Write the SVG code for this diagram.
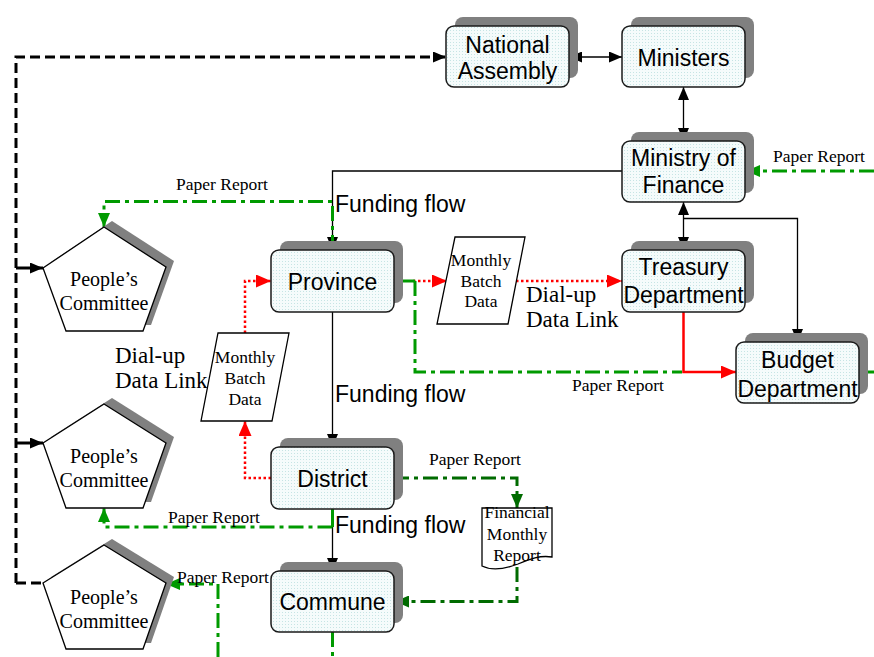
<svg xmlns="http://www.w3.org/2000/svg" width="874" height="657" viewBox="0 0 874 657">
  <defs>
    <pattern id="dots" width="3" height="3" patternUnits="userSpaceOnUse">
      <rect width="3" height="3" fill="#f5fbfb"/>
      <rect width="1" height="1" fill="#c6e4e4"/>
    </pattern>
    <marker id="ah" markerUnits="userSpaceOnUse" markerWidth="13" markerHeight="11" refX="13" refY="5.5" orient="auto-start-reverse">
      <path d="M0,0 L13,5.5 L0,11 z" fill="#000"/>
    </marker>
    <marker id="ahRed" markerUnits="userSpaceOnUse" markerWidth="15" markerHeight="13" refX="15" refY="6.5" orient="auto">
      <path d="M0,0 L15,6.5 L0,13 z" fill="#ff0000"/>
    </marker>
    <marker id="ahGreen" markerUnits="userSpaceOnUse" markerWidth="14" markerHeight="12" refX="14" refY="6" orient="auto">
      <path d="M0,0 L14,6 L0,12 z" fill="#009a00"/>
    </marker>
    <marker id="ahDkGreen" markerUnits="userSpaceOnUse" markerWidth="14" markerHeight="12" refX="14" refY="6" orient="auto">
      <path d="M0,0 L14,6 L0,12 z" fill="#006b00"/>
    </marker>
  </defs>
  <style>
    .shadow { fill: #808080; }
    .box { fill: url(#dots); stroke: #1a1a1a; stroke-width: 1.5; }
    .shape { fill: #fff; stroke: #000; stroke-width: 1.3; }
    .lbl { font-family: "Liberation Sans", Arial, sans-serif; font-size: 23px; fill: #000; text-anchor: middle; }
    .serif { font-family: "Liberation Serif", "Times New Roman", serif; fill: #000; }
    .pc { font-size: 20px; text-anchor: middle; }
    .small { font-size: 17.5px; text-anchor: middle; }
    .rep { font-size: 17.5px; }
    .dial { font-size: 23px; }
    .flow { font-family: "Liberation Sans", Arial, sans-serif; font-size: 23px; fill: #000; }
    .solid { fill: none; stroke: #000; stroke-width: 1.3; }
    .dash { fill: none; stroke: #000; stroke-width: 3; stroke-dasharray: 10 5; }
    .red-dot { fill: none; stroke: #ff0000; stroke-width: 2.5; stroke-dasharray: 2.5 2.5; }
    .red { fill: none; stroke: #ff0000; stroke-width: 2.5; }
    .green { fill: none; stroke: #009a00; stroke-width: 3; stroke-dasharray: 15 5 4 5; }
    .dkgreen { fill: none; stroke: #006b00; stroke-width: 3; stroke-dasharray: 15 5 4 5; }
  </style>

  <!-- connectors -->
  <g id="connectors">
    <!-- oversight link from the committees to the assembly -->
    <path class="dash" d="M16,583 V57 H446" marker-end="url(#ah)"/>
    <path class="dash" d="M16,583 H43"/>
    <path fill="none" stroke="#000" stroke-width="3" d="M16,268 H43" marker-end="url(#ah)"/>
    <path fill="none" stroke="#000" stroke-width="3" d="M16,443 H43" marker-end="url(#ah)"/>

    <!-- central links -->
    <path class="solid" d="M569,57 H622" marker-start="url(#ah)" marker-end="url(#ah)"/>
    <path class="solid" d="M683.5,87 V141" marker-start="url(#ah)" marker-end="url(#ah)"/>
    <path class="solid" d="M683.5,202 V250" marker-start="url(#ah)" marker-end="url(#ah)"/>
    <path class="solid" d="M683.5,218.5 H797.5 V342" marker-end="url(#ah)"/>

    <!-- funding flow -->
    <path class="solid" d="M622,171 H332.5 V250" marker-end="url(#ah)"/>
    <path class="solid" d="M332.5,312 V447" marker-end="url(#ah)"/>
    <path class="solid" d="M332.5,509 V571" marker-end="url(#ah)"/>

    <!-- dial-up data links -->
    <path class="red-dot" d="M413,281 H447" marker-end="url(#ahRed)"/>
    <path class="red-dot" d="M516,281 H622" marker-end="url(#ahRed)"/>
    <path class="red-dot" d="M245,333 V281 H271" marker-end="url(#ahRed)"/>
    <path class="red-dot" d="M271,478 H245 V421" marker-end="url(#ahRed)"/>
    <path class="red" d="M683.5,312 V372 H736" marker-end="url(#ahRed)"/>

    <!-- paper reports -->
    <path class="green" d="M874,171 H746" marker-end="url(#ahGreen)"/>
    <path class="green" d="M332.5,250 V201.5 H104 V227" marker-end="url(#ahGreen)"/>
    <path fill="none" stroke="#009a00" stroke-width="3" d="M394,281 H415"/>
    <path class="green" d="M415,281 V372 H682"/>
    <path fill="none" stroke="#009a00" stroke-width="3" d="M859,372 H874"/>
    <path fill="none" stroke="#009a00" stroke-width="3" d="M332.5,509 V527"/>
    <path class="green" d="M332.5,527 H104 V508" marker-end="url(#ahGreen)"/>
    <path class="dkgreen" d="M394,478 H517 V508" marker-end="url(#ahDkGreen)"/>
    <path class="dkgreen" d="M517,567 V601.5 H395" marker-end="url(#ahDkGreen)"/>
    <path class="green" d="M332.5,632 V657"/>
    <path class="green" d="M218,657 V584 H166" marker-end="url(#ahGreen)"/>
  </g>

  <!-- connector labels -->
  <g id="labels">
    <text class="flow" x="335" y="212">Funding flow</text>
    <text class="flow" x="335" y="402">Funding flow</text>
    <text class="flow" x="335" y="533">Funding flow</text>
    <text class="serif dial" x="526" y="301.5">Dial-up</text>
    <text class="serif dial" x="526" y="326.5">Data Link</text>
    <text class="serif dial" x="115" y="363">Dial-up</text>
    <text class="serif dial" x="115" y="388">Data Link</text>
    <text class="serif rep" x="773" y="162">Paper Report</text>
    <text class="serif rep" x="176" y="189.5">Paper Report</text>
    <text class="serif rep" x="572" y="390.5">Paper Report</text>
    <text class="serif rep" x="429" y="465">Paper Report</text>
    <text class="serif rep" x="168" y="522.5">Paper Report</text>
    <text class="serif rep" x="177" y="583">Paper Report</text>
  </g>

  <!-- boxes -->
  <g id="national-assembly">
    <rect class="shadow" x="455" y="17" width="123" height="61" rx="8"/>
    <rect class="box" x="446" y="26" width="123" height="61" rx="8"/>
    <text class="lbl" x="507.5" y="52.5">National</text>
    <text class="lbl" x="507.5" y="79">Assembly</text>
  </g>
  <g id="ministers">
    <rect class="shadow" x="631" y="17" width="123" height="61" rx="8"/>
    <rect class="box" x="622" y="26" width="123" height="61" rx="8"/>
    <text class="lbl" x="683.5" y="65.5">Ministers</text>
  </g>
  <g id="ministry-of-finance">
    <rect class="shadow" x="631" y="132" width="123" height="61" rx="8"/>
    <rect class="box" x="622" y="141" width="123" height="61" rx="8"/>
    <text class="lbl" x="683.5" y="166">Ministry of</text>
    <text class="lbl" x="683.5" y="193">Finance</text>
  </g>
  <g id="province">
    <rect class="shadow" x="280" y="241" width="123" height="62" rx="8"/>
    <rect class="box" x="271" y="250" width="123" height="62" rx="8"/>
    <text class="lbl" x="332.5" y="290">Province</text>
  </g>
  <g id="treasury-department">
    <rect class="shadow" x="631" y="241" width="123" height="62" rx="8"/>
    <rect class="box" x="622" y="250" width="123" height="62" rx="8"/>
    <text class="lbl" x="683.5" y="274.5">Treasury</text>
    <text class="lbl" x="683.5" y="303">Department</text>
  </g>
  <g id="budget-department">
    <rect class="shadow" x="745" y="333" width="123" height="61" rx="8"/>
    <rect class="box" x="736" y="342" width="123" height="61" rx="8"/>
    <text class="lbl" x="797.5" y="368">Budget</text>
    <text class="lbl" x="797.5" y="396.5">Department</text>
  </g>
  <g id="district">
    <rect class="shadow" x="280" y="438" width="123" height="62" rx="8"/>
    <rect class="box" x="271" y="447" width="123" height="62" rx="8"/>
    <text class="lbl" x="332.5" y="487">District</text>
  </g>
  <g id="commune">
    <rect class="shadow" x="280" y="562" width="123" height="61" rx="8"/>
    <rect class="box" x="271" y="571" width="123" height="61" rx="8"/>
    <text class="lbl" x="332.5" y="610">Commune</text>
  </g>

  <!-- people's committees -->
  <g id="committee-province">
    <polygon class="shadow" points="112,221 174,261 151,325 74,325 51,262"/>
    <polygon class="shape" points="104,227 166,267 143,331 66,331 43,268"/>
    <text class="serif pc" x="104" y="286">People’s</text>
    <text class="serif pc" x="104" y="310">Committee</text>
  </g>
  <g id="committee-district">
    <polygon class="shadow" points="112,398 174,437 151,502 74,502 51,437"/>
    <polygon class="shape" points="104,404 166,443 143,508 66,508 43,443"/>
    <text class="serif pc" x="104" y="463">People’s</text>
    <text class="serif pc" x="104" y="487">Committee</text>
  </g>
  <g id="committee-commune">
    <polygon class="shadow" points="112,539 174,577 151,643 74,643 51,577"/>
    <polygon class="shape" points="104,545 166,583 143,649 66,649 43,583"/>
    <text class="serif pc" x="104" y="603.5">People’s</text>
    <text class="serif pc" x="104" y="627.5">Committee</text>
  </g>

  <!-- data and report shapes -->
  <g id="batch-data-province">
    <polygon class="shape" points="455,237 525,237 508,324 437,324"/>
    <text class="serif small" x="481" y="266">Monthly</text>
    <text class="serif small" x="481" y="286.5">Batch</text>
    <text class="serif small" x="481" y="307">Data</text>
  </g>
  <g id="batch-data-district">
    <polygon class="shape" points="218,333 289,333 272,421 201,421"/>
    <text class="serif small" x="245" y="363">Monthly</text>
    <text class="serif small" x="245" y="384">Batch</text>
    <text class="serif small" x="245" y="404.5">Data</text>
  </g>
  <g id="financial-report">
    <path class="shape" d="M482,508 H552 V557 C540,555 530,559 518,564 C505,569 492,571 482,566 Z"/>
    <text class="serif small" x="517" y="518">Financial</text>
    <text class="serif small" x="517" y="540">Monthly</text>
    <text class="serif small" x="517" y="560.5">Report</text>
  </g>
</svg>
